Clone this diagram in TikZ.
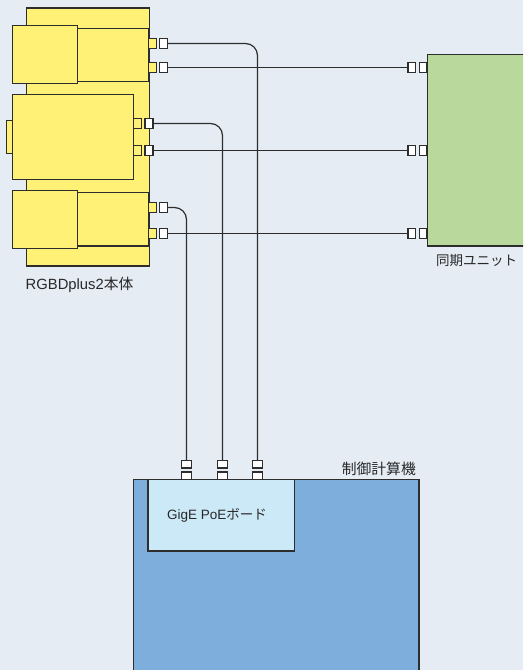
\documentclass[tikz,border=0pt]{standalone}
\usepackage{fontspec}
\setmainfont{Liberation Sans}
\newfontfamily\jpfont{Noto Sans CJK JP}
\definecolor{bgC}{RGB}{229,236,244}
\definecolor{lnC}{RGB}{45,45,45}
\definecolor{yelC}{RGB}{255,241,118}
\definecolor{grnC}{RGB}{185,216,155}
\definecolor{bluC}{RGB}{126,174,220}
\definecolor{lbC}{RGB}{204,233,248}
\definecolor{txC}{RGB}{40,40,40}
\tikzset{
  bx/.style={draw=lnC, line width=1.4pt, inner sep=0pt, outer sep=0pt, anchor=north west},
  sz/.style 2 args={minimum width=#1, minimum height=#2},
  port/.style={draw=lnC, line width=1.3pt, inner sep=0pt, outer sep=0pt, minimum width=8pt, minimum height=9.4pt},
  sport/.style={draw=lnC, line width=1.3pt, inner sep=0pt, outer sep=0pt, fill=white, minimum width=7.5pt, minimum height=9.8pt},
  bport/.style={draw=lnC, line width=1.3pt, inner sep=0pt, outer sep=0pt, fill=white, minimum width=10.2pt, minimum height=7.4pt},
  wire/.style={draw=lnC, line width=1.2pt, rounded corners=12pt},
  lbl/.style={text=txC, inner sep=0pt, font=\fontsize{13.5pt}{16pt}\selectfont},
  lblb/.style={text=txC, inner sep=0pt, font=\fontsize{14.8pt}{17pt}\selectfont}
}
\begin{document}
\begin{tikzpicture}[x=1pt,y=-1pt]
\useasboundingbox (0,0) rectangle (523,670);
\clip (0,0) rectangle (523,670);
\fill[bgC] (0,0) rectangle (523,670);

% RGBDplus2 body
\node[bx, fill=yelC, sz={122.6pt}{258pt}] (body) at (26.7,8) {};
% top camera
\node[bx, fill=yelC, sz={71pt}{53pt}] (c1r) at (77.3,28.3) {};
\node[bx, fill=yelC, sz={64.6pt}{58pt}] (c1l) at (12.7,25.7) {};
% middle camera
\node[bx, fill=yelC, sz={6.4pt}{33pt}] (c2t) at (6.3,120.3) {};
\node[bx, fill=yelC, sz={121pt}{84.6pt}] (c2) at (12.7,94.7) {};
% bottom camera
\node[bx, fill=yelC, sz={71pt}{53.3pt}] (c3r) at (77.3,192.7) {};
\node[bx, fill=yelC, sz={64.6pt}{58pt}] (c3l) at (12.7,190.3) {};

% camera ports
\node[port, fill=yelC] (y1) at (152.2,43.5) {};
\node[port, fill=white] (w1) at (163.3,43.5) {};
\node[port, fill=yelC] (y2) at (152.2,67.5) {};
\node[port, fill=white] (w2) at (163.3,67.5) {};
\node[port, fill=yelC] (y3) at (137.5,123.5) {};
\node[port, fill=white] (w3) at (149,123.5) {};
\node[port, fill=yelC] (y4) at (137.5,150.5) {};
\node[port, fill=white] (w4) at (149,150.5) {};
\node[port, fill=yelC] (y5) at (152.2,207.5) {};
\node[port, fill=white] (w5) at (163.3,207.5) {};
\node[port, fill=yelC] (y6) at (152.2,233.5) {};
\node[port, fill=white] (w6) at (163.3,233.5) {};

\node[lblb, anchor=west] (lb1) at (25.5,284.5) {RGBDplus2{\jpfont 本体}};

% sync unit
\node[bx, fill=grnC, sz={120pt}{191.3pt}] (sync) at (427.3,54.7) {};
\node[sport] (sa1) at (411.8,67.5) {};
\node[sport] (sb1) at (423,67.5) {};
\node[sport] (sa2) at (411.8,150.5) {};
\node[sport] (sb2) at (423,150.5) {};
\node[sport] (sa3) at (411.8,233.5) {};
\node[sport] (sb3) at (423,233.5) {};
\node[lbl] (lb2) at (476.7,260) {\jpfont 同期ユニット};

% control computer
\node[bx, fill=bluC, sz={285.7pt}{230pt}] (pc) at (133.3,479.3) {};
\node[bx, fill=lbC, sz={146.7pt}{71.7pt}] (board) at (148,479.3) {};
\node[bport] (g1l) at (186.5,475.7) {};
\node[bport] (g1u) at (186.5,464.3) {};
\node[bport] (g2l) at (222.5,475.7) {};
\node[bport] (g2u) at (222.5,464.3) {};
\node[bport] (g3l) at (257.5,475.7) {};
\node[bport] (g3u) at (257.5,464.3) {};
\node[lblb, anchor=east] (lb3) at (416,468.5) {\jpfont 制御計算機};
\node[lbl] (lb4) at (217,515) {GigE PoE{\jpfont ボード}};

% wires
\draw[wire] (w1.east) -| (g3u.north);
\draw[wire] (w3.east) -| (g2u.north);
\draw[wire] (w5.east) -| (g1u.north);
\draw[wire] (w2.east) -- (sa1.west);
\draw[wire] (w4.east) -- (sa2.west);
\draw[wire] (w6.east) -- (sa3.west);
\end{tikzpicture}
\end{document}
